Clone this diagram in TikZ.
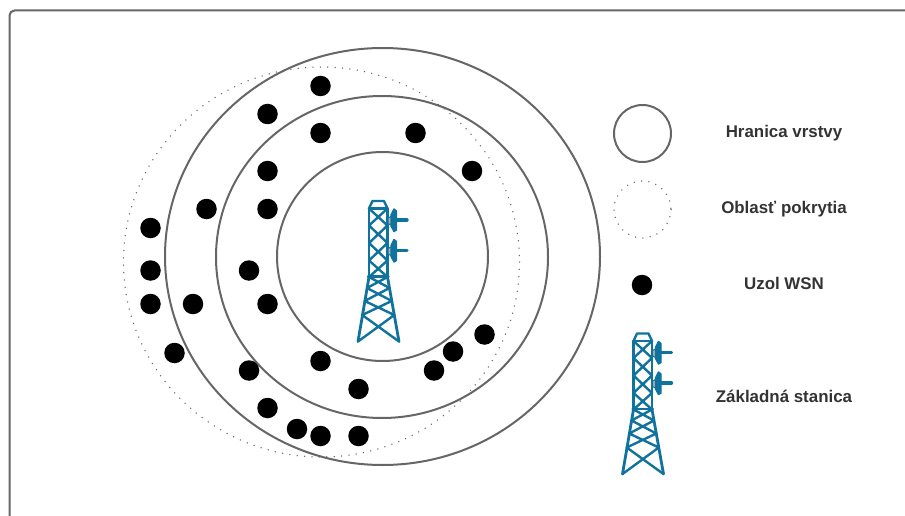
\documentclass[tikz,border=0pt]{standalone}
\usepackage{fontspec}
\setmainfont{Liberation Sans}
\definecolor{ringc}{HTML}{666666}
\definecolor{towerc}{HTML}{10739E}
\definecolor{textc}{HTML}{333333}
\definecolor{dishc}{HTML}{B0B0B0}
\tikzset{
  x=1pt,y=-1pt,
  ring/.style={draw=ringc,line width=2pt,fill=none},
  cover/.style={draw=ringc,line width=1.5pt,line cap=round,dash pattern=on 0pt off 7.4pt,fill=none},
  wsn/.style={circle,fill=black,draw=none,minimum size=20.5pt,inner sep=0pt},
  legend/.style={font=\bfseries\fontsize{16.9}{20}\selectfont,text=textc,inner sep=0pt,anchor=center},
  tw/.style={draw=towerc,line width=2.8pt,line join=round,line cap=round},
  twt/.style={draw=towerc,line width=2.4pt,line join=round,line cap=round},
  pics/basetower/.style={code={
    % top cap
    \draw[twt] (369,208.5)--(372.5,201)--(384,201)--(387.5,208.5);
    % mast
    \draw[tw] (369,208.5)--(387.5,208.5);
    \draw[tw] (369,208.5)--(369,277) (387.5,208.5)--(387.5,277);
    \draw[twt] (369,208.5)--(387.5,225.5)--(369,243)--(387.5,260.5)--(369,277)
               (387.5,208.5)--(369,225.5)--(387.5,243)--(369,260.5)--(387.5,277);
    % base
    \draw[tw] (369,277)--(358,341.5) (387.5,277)--(399,341.5);
    \draw[twt] (368,276.5)--(388.5,276.5);
    \draw[twt] (369,277)--(389.5,288)--(364.7,301)--(394.3,315)--(358,341.5)
               (387.5,277)--(367,288)--(391.8,301)--(362.2,315)--(399,341.5);
    % dishes
    \foreach \yy in {220,250.5}{
      \fill[dishc,draw=towerc,line width=1pt] (392,\yy-4)--(388,\yy-2)--(388,\yy+3.5)--(392,\yy+5.5)--cycle;
      \fill[towerc,draw=towerc,line width=1.4pt,line join=round] (394,\yy-11)--(396.5,\yy-9)--(396.5,\yy+10)--(394,\yy+11.5)--(391,\yy+6)--(391,\yy-5)--cycle;
      \draw[towerc,line width=3.4pt,line cap=round] (394,\yy)--(407,\yy);
    }
  }}
}
\begin{document}
\begin{tikzpicture}
\useasboundingbox (0,0) rectangle (905,516);
\draw[draw=ringc,line width=2pt,rounded corners=5pt] (930,10.5)--(9.5,10.5)--(9.5,540);
% coverage and layers
\draw[cover] (321.5,262) ellipse [x radius=198,y radius=195];
\draw[ring] (382.5,256.5) ellipse [x radius=217.5,y radius=208.5];
\draw[ring] (382,257) ellipse [x radius=166,y radius=161];
\draw[ring] (382.5,256.5) ellipse [x radius=105.5,y radius=104.5];
% WSN nodes
\foreach \n/\px/\py in {a/320.5/86,b/267.5/114,c/320.5/133,d/415.5/133,e/472/171,f/267.5/171,g/206.5/209,h/267.5/209,i/150.5/228,j/150.5/270.5,k/249/270.5,l/150.5/304,m/193/304,n/267.5/304,o/174.5/353,p/249/370.5,q/320.5/361,r/358.5/389,s/434/370.5,t/453/351.5,u/484.5/334.5,v/267.5/408,w/297/429,x/320.5/436,y/358.5/436}{
  \node[wsn] (\n) at (\px,\py) {};
}
% base station
\pic at (0,0) {basetower};
% legend
\draw[ring] (642.5,133.5) circle [radius=28.5];
\draw[cover] (642.5,209.5) circle [radius=28.5];
\node[wsn] (legdot) at (642,285) {};
\pic at (264.5,132.5) {basetower};
\node[legend] (t1) at (784,133) {Hranica vrstvy};
\node[legend] (t2) at (784,209) {Oblasť pokrytia};
\node[legend] (t3) at (784,283.5) {Uzol WSN};
\node[legend] (t4) at (784,396.5) {Základná stanica};
\end{tikzpicture}
\end{document}
